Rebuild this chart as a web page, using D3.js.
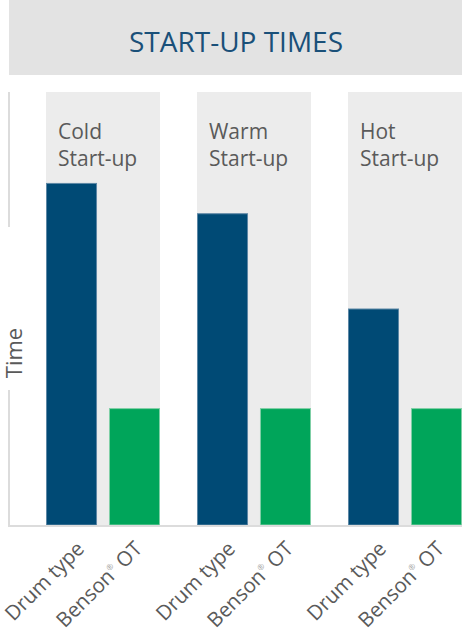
<!DOCTYPE html>
<html>
<head>
<meta charset="utf-8">
<script src="https://cdn.jsdelivr.net/npm/d3@7"></script>
<style>
  body { margin: 0; background: #fff; }
  svg { display: block; font-family: 'Open Sans', sans-serif; }
</style>
</head>
<body>
<div id="chart"></div>
<script>
const title = 'START-UP TIMES';
const groups = ['Cold', 'Warm', 'Hot'];
const groupSuffix = 'Start-up';
const series = ['Drum type', 'Benson® OT'];
const drumValues = [79, 72, 50];
const bensonValues = [27, 27, 27];
const yLabel = 'Time';

const width = 462;
const height = 632;
const margin = {top: 92, right: 0, bottom: 107, left: 46};

const data = groups.map((g, i) => ({group: g, values: [drumValues[i], bensonValues[i]]}));

const svg = d3.select('#chart')
  .append('svg')
  .attr('width', width)
  .attr('height', height)
  .attr('viewBox', [0, 0, width, height]);

// title box
svg.append('rect')
  .attr('x', 9).attr('y', 0)
  .attr('width', width - 9).attr('height', 75)
  .attr('fill', '#e3e3e3');

svg.append('text')
  .attr('x', 236).attr('y', 52)
  .attr('text-anchor', 'middle')
  .attr('font-size', 28)
  .attr('fill', '#1a5079')
  .text(title);

const x0 = d3.scaleBand()
  .domain(groups)
  .range([margin.left, width - margin.right])
  .paddingInner(0.245)
  .paddingOuter(0);

const x1 = d3.scaleBand()
  .domain(series)
  .range([0, x0.bandwidth()])
  .paddingInner(0.19)
  .paddingOuter(0);

const y = d3.scaleLinear()
  .domain([0, 100])
  .range([height - margin.bottom, margin.top]);

const colors = d3.scaleOrdinal()
  .domain(series)
  .range(['#004a75', '#00a55a']);

const strokes = d3.scaleOrdinal()
  .domain(series)
  .range(['#5d87a5', '#7fcfa6']);

// group backgrounds
svg.append('g')
  .selectAll('rect')
  .data(groups)
  .join('rect')
  .attr('x', d => x0(d))
  .attr('y', y(100))
  .attr('width', x0.bandwidth())
  .attr('height', y(0) - y(100))
  .attr('fill', '#ececec');

// group labels
const gl = svg.append('g')
  .selectAll('text')
  .data(groups)
  .join('text')
  .attr('x', d => x0(d) + 12)
  .attr('y', 139)
  .attr('font-size', 21)
  .attr('fill', '#5a5a5a');
gl.append('tspan').text(d => d);
gl.append('tspan').attr('x', d => x0(d) + 12).attr('dy', 27).text(groupSuffix);

// bars
svg.append('g')
  .selectAll('g')
  .data(data)
  .join('g')
  .attr('transform', d => `translate(${x0(d.group)},0)`)
  .selectAll('rect')
  .data(d => d.values.map((v, i) => ({key: series[i], value: v})))
  .join('rect')
  .attr('x', d => x1(d.key) + 0.5)
  .attr('y', d => y(d.value) + 0.5)
  .attr('width', x1.bandwidth() - 1)
  .attr('height', d => y(0) - y(d.value) - 0.5)
  .attr('fill', d => colors(d.key))
  .attr('stroke', d => strokes(d.key))
  .attr('stroke-width', 1);

// y axis line with gap for label
const axisColor = '#dcdcdc';
[[0, 31.2], [68.8, 100]].forEach(([a, b]) => {
  svg.append('line')
    .attr('x1', 9).attr('x2', 9)
    .attr('y1', y(a)).attr('y2', y(b))
    .attr('stroke', axisColor)
    .attr('stroke-width', 2);
});

svg.append('text')
  .attr('transform', `translate(22,${353}) rotate(-90)`)
  .attr('text-anchor', 'middle')
  .attr('font-size', 22)
  .attr('fill', '#5a5a5a')
  .text(yLabel);

// x axis
svg.append('line')
  .attr('x1', 8).attr('x2', width)
  .attr('y1', y(0) + 1).attr('y2', y(0) + 1)
  .attr('stroke', axisColor)
  .attr('stroke-width', 2);

groups.forEach(g => {
  const ax = svg.append('g')
    .attr('transform', `translate(${x0(g)},${y(0)})`)
    .call(d3.axisBottom(x1).tickSize(0).tickFormat(''));
  ax.select('.domain').remove();
  ax.selectAll('.tick text').remove();
  ax.selectAll('.tick').each(function(d) {
    const t = d3.select(this).append('text')
      .attr('transform', `translate(${d.includes('®') ? 9 : 14},25) rotate(-45)`)
      .attr('text-anchor', 'end')
      .attr('font-size', 20.5)
      .attr('font-family', "'Open Sans', sans-serif")
      .attr('fill', '#5a5a5a');
    if (d.includes('®')) {
      const [a, b] = d.split('®');
      t.append('tspan').text(a);
      t.append('tspan').attr('font-size', 8).attr('dy', -9).attr('fill', '#999').text('®');
      t.append('tspan').attr('dy', 9).text(b);
    } else {
      t.text(d);
    }
  });
});
</script>
</body>
</html>
